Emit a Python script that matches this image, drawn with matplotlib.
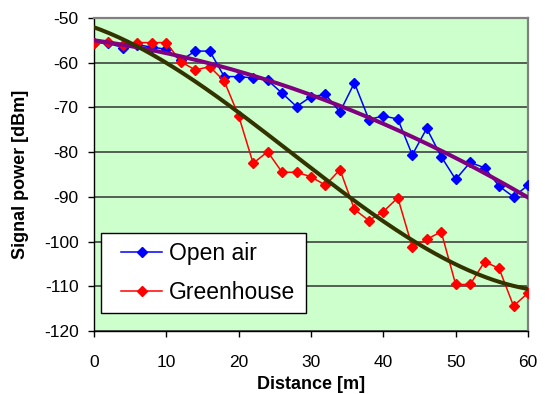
import numpy as np
import matplotlib
matplotlib.use("Agg")
import matplotlib.pyplot as plt
from matplotlib.patches import Rectangle

plt.rcParams['font.family'] = ['Liberation Sans', 'DejaVu Sans']
plt.rcParams['axes.unicode_minus'] = False

distance = [0, 2, 4, 6, 8, 10, 12, 14, 16, 18, 20, 22, 24, 26, 28, 30,
            32, 34, 36, 38, 40, 42, 44, 46, 48, 50, 52, 54, 56, 58, 60]
open_air = [-55.5, -55.7, -56.6, -56.0, -56.5, -57.0, -59.5, -57.4, -57.4, -63.1,
            -63.1, -63.4, -63.9, -66.8, -69.8, -67.6, -67.1, -71.0, -64.5, -72.7,
            -71.9, -72.6, -80.6, -74.7, -81.0, -86.1, -82.3, -83.5, -87.6, -90.0, -87.4]
greenhouse = [-55.5, -55.3, -56.0, -55.5, -55.5, -55.5, -59.8, -61.6, -60.9, -64.1,
              -71.9, -82.5, -79.9, -84.5, -84.5, -85.5, -87.4, -83.9, -92.8, -95.3,
              -93.3, -90.2, -101.2, -99.5, -97.8, -109.6, -109.6, -104.5, -106.0, -114.4, -111.5]

x = np.array(distance, dtype=float)
xs = np.linspace(0, 60, 200)
fit_open = np.polyval(np.polyfit(x, open_air, 2), xs)
fit_green = np.polyval(np.polyfit(x, greenhouse, 3), xs)

fig = plt.figure(figsize=(5.45, 3.94), dpi=100)
ax = fig.add_axes([94/545, 1-331/394, (528-94)/545, (331-18)/394])
ax.set_facecolor('#CCFFCC')

ax.plot(x, open_air, color='#0000FF', marker='D', markersize=5.2, linewidth=1.1,
        label='Open air', zorder=3)
ax.plot(x, greenhouse, color='#FF0000', marker='D', markersize=5.2, linewidth=1.1,
        label='Greenhouse', zorder=3)
ax.plot(xs, fit_open, color='#800080', linewidth=2.9, zorder=4)
ax.plot(xs, fit_green, color='#333300', linewidth=2.9, zorder=4)

ax.set_xlim(0, 60)
ax.set_ylim(-120, -50)
ax.set_xticks(range(0, 61, 10))
ax.set_yticks(range(-120, -49, 10))
ax.yaxis.grid(True, color='#333333', linewidth=1.1)
ax.set_axisbelow(True)
ax.tick_params(axis='both', direction='out', length=4, width=1, labelsize=12.5, colors='black')
ax.tick_params(axis='x', pad=13)
ax.tick_params(axis='y', pad=7)
for s in ['top', 'right']:
    ax.spines[s].set_color('#808080')
    ax.spines[s].set_linewidth(1.6)
for s in ['left', 'bottom']:
    ax.spines[s].set_color('black')
    ax.spines[s].set_linewidth(1.0)

ax.set_xlabel('Distance [m]', fontsize=13, fontweight='bold')
ax.xaxis.set_label_coords(0.5, (331-376)/313)
ax.set_ylabel('Signal power [dBm]', fontsize=13, fontweight='bold')
ax.yaxis.set_label_coords((29-94)/434, 0.5)

# legend box
box = Rectangle(((101-94)/434, (331-313)/313), (306-101)/434, (313-233)/313,
                transform=ax.transAxes, facecolor='white', edgecolor='black',
                linewidth=1.0, zorder=5)
ax.add_patch(box)
leg = ax.legend(loc='center left', bbox_to_anchor=((121-94)/434, (331-273)/313),
                borderaxespad=0, borderpad=0, fontsize=16.5, frameon=False,
                handlelength=1.8, labelspacing=0.72, handletextpad=0.3)
leg.set_zorder(6)

fig.savefig('out.png', dpi=100, facecolor='white')
